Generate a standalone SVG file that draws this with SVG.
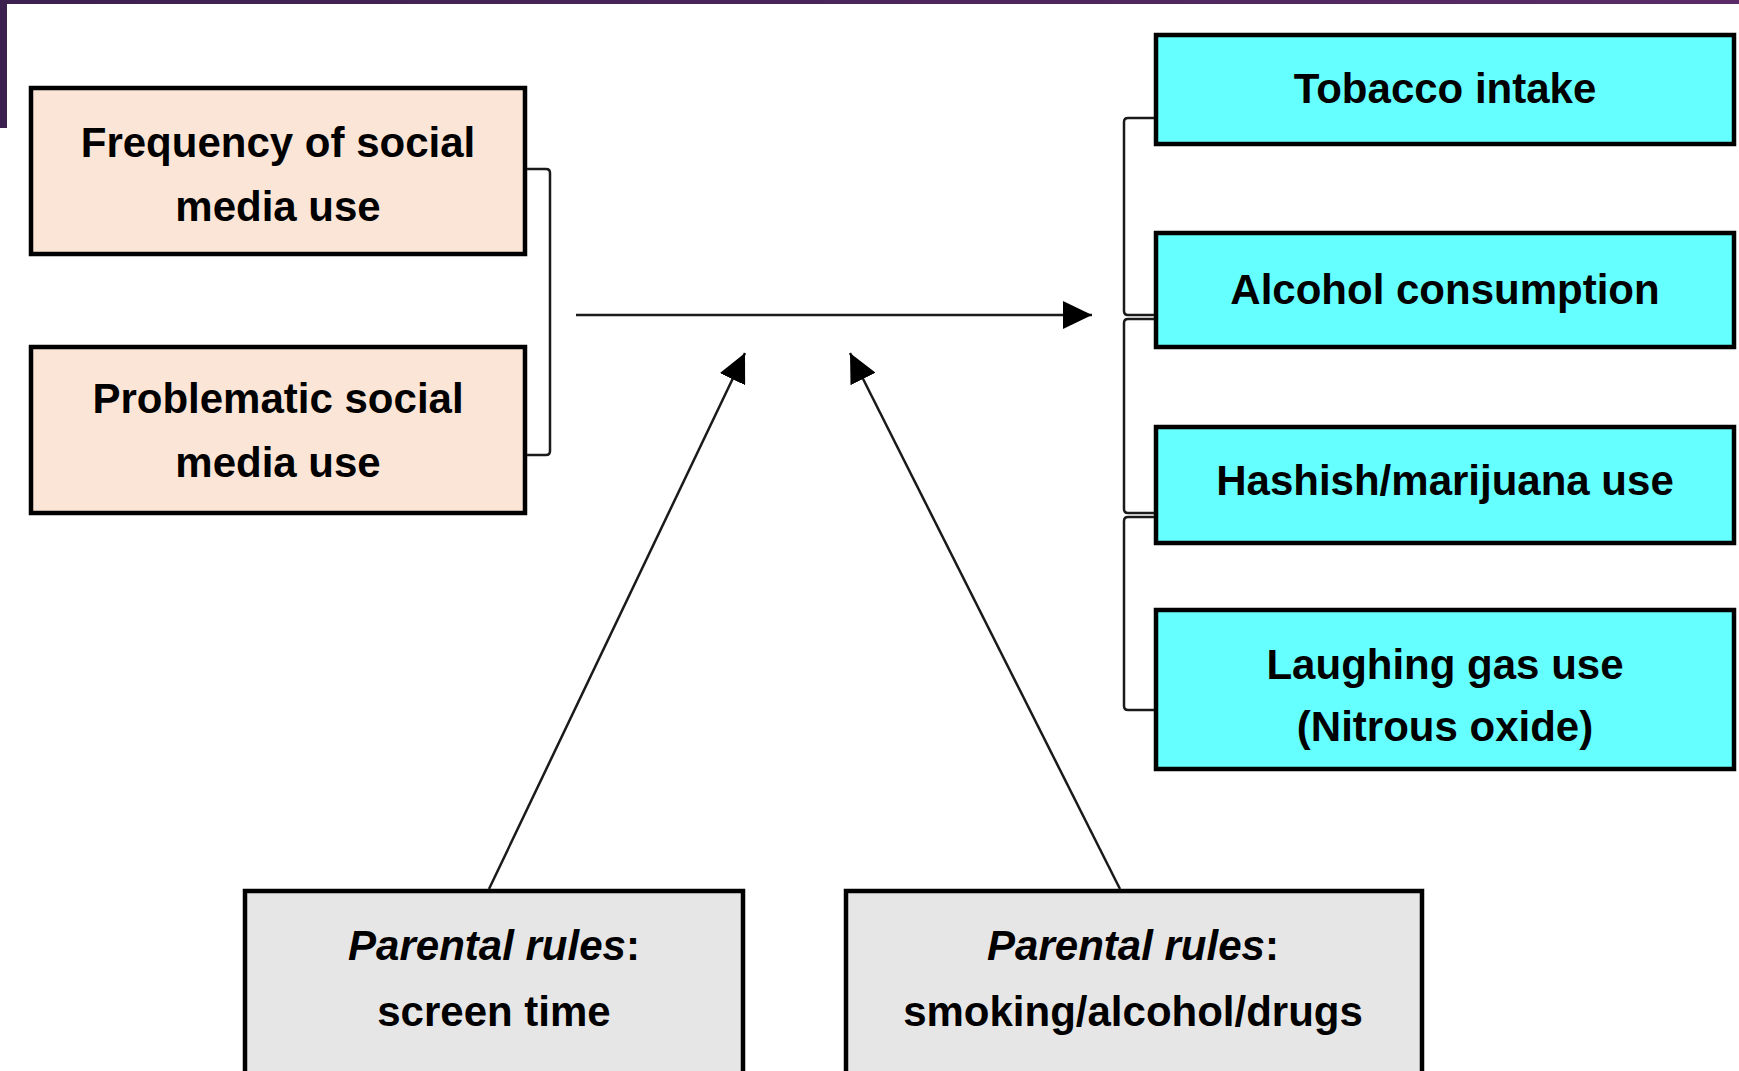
<svg xmlns="http://www.w3.org/2000/svg" width="1739" height="1071" viewBox="0 0 1739 1071">
<defs>
<linearGradient id="band" x1="0" y1="0" x2="1" y2="0">
<stop offset="0" stop-color="#3c2050"/>
<stop offset="1" stop-color="#5a2b68"/>
</linearGradient>
<marker id="ah" markerUnits="userSpaceOnUse" markerWidth="30" markerHeight="28" refX="29" refY="14" orient="auto">
<path d="M0,0 L29,14 L0,28 Z" fill="#000"/>
</marker>
<style>
.box{stroke:#000;stroke-width:4.5}
.peach{fill:#fbe5d6}
.cyan{fill:#66ffff}
.gray{fill:#e7e6e6}
.t{font-family:"Liberation Sans",Arial,sans-serif;font-weight:bold;font-size:42px;fill:#000;text-anchor:middle}
.con{fill:none;stroke:#1a1a1a;stroke-width:2.5}
</style>
</defs>
<rect width="1739" height="1071" fill="#fff"/>
<rect x="0" y="0" width="1739" height="4" fill="url(#band)"/>
<rect x="0" y="0" width="7" height="128" fill="#3c2050"/>

<g id="freq">
<rect class="box peach" x="31" y="88" width="494" height="166"/>
<text class="t" x="278" y="157">Frequency of social</text>
<text class="t" x="278" y="221">media use</text>
</g>
<g id="problematic">
<rect class="box peach" x="31" y="347" width="494" height="166"/>
<text class="t" x="278" y="413">Problematic social</text>
<text class="t" x="278" y="477">media use</text>
</g>
<g id="tobacco">
<rect class="box cyan" x="1156" y="35" width="578" height="109"/>
<text class="t" x="1445" y="103">Tobacco intake</text>
</g>
<g id="alcohol">
<rect class="box cyan" x="1156" y="233" width="578" height="114"/>
<text class="t" x="1445" y="304">Alcohol consumption</text>
</g>
<g id="hashish">
<rect class="box cyan" x="1156" y="427" width="578" height="116"/>
<text class="t" x="1445" y="495">Hashish/marijuana use</text>
</g>
<g id="laughing">
<rect class="box cyan" x="1156" y="610" width="578" height="159"/>
<text class="t" x="1445" y="679">Laughing gas use</text>
<text class="t" x="1445" y="741">(Nitrous oxide)</text>
</g>
<g id="rules-screen">
<rect class="box gray" x="245" y="891" width="498" height="190"/>
<text class="t" x="494" y="960"><tspan font-style="italic">Parental rules</tspan>:</text>
<text class="t" x="494" y="1026">screen time</text>
</g>
<g id="rules-substances">
<rect class="box gray" x="846" y="891" width="576" height="190"/>
<text class="t" x="1133" y="960"><tspan font-style="italic">Parental rules</tspan>:</text>
<text class="t" x="1133" y="1026">smoking/alcohol/drugs</text>
</g>

<g id="connectors">
<path class="con" d="M527,169 H546 Q550,169 550,173 V451 Q550,455 546,455 H527"/>
<path class="con" d="M1154,118 H1128 Q1124,118 1124,122 V311 Q1124,315 1128,315 H1154"/>
<path class="con" d="M1154,319 H1128 Q1124,319 1124,323 V509 Q1124,513 1128,513 H1154"/>
<path class="con" d="M1154,517 H1128 Q1124,517 1124,521 V706 Q1124,710 1128,710 H1154"/>
<line class="con" x1="576" y1="315" x2="1092" y2="315" marker-end="url(#ah)"/>
<line class="con" x1="489" y1="889" x2="745" y2="353" marker-end="url(#ah)"/>
<line class="con" x1="1120" y1="889" x2="850" y2="353" marker-end="url(#ah)"/>
</g>
</svg>
